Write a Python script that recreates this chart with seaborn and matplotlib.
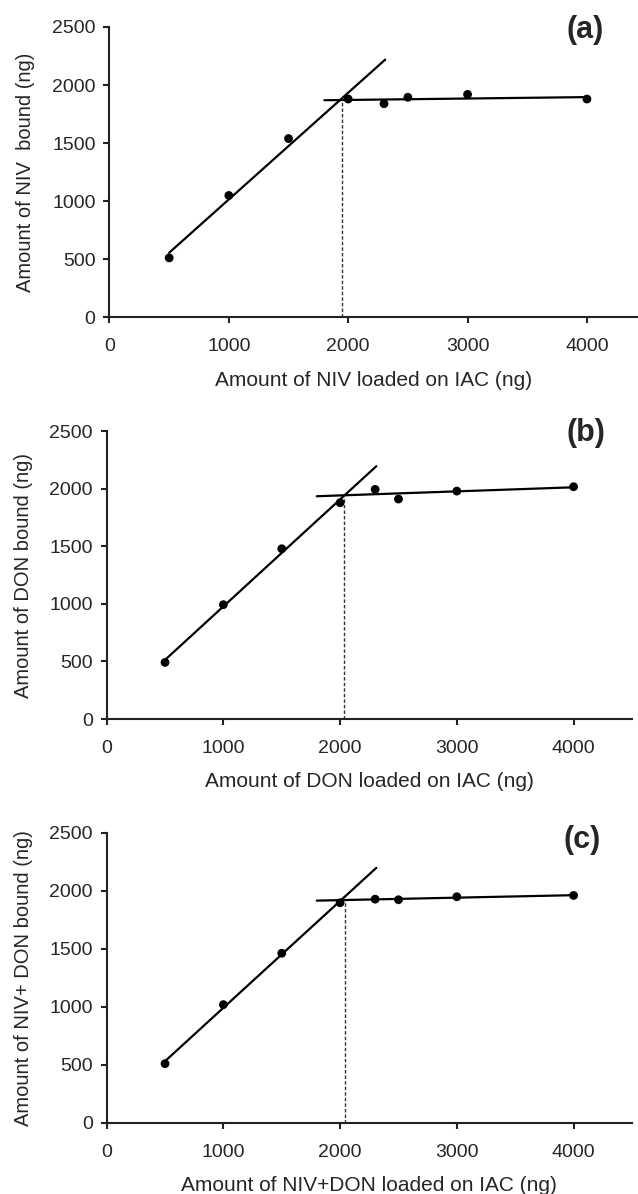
import numpy as np
import pandas as pd
import matplotlib
matplotlib.use("Agg")
import matplotlib.pyplot as plt
import seaborn as sns

# amount loaded on the IAC column (ng), same for all three panels
x_loaded = [500, 1000, 1500, 2000, 2300, 2500, 3000, 4000]
# amount bound (ng)
niv_bound = [513, 1050, 1540, 1880, 1840, 1895, 1920, 1880]
don_bound = [492, 994, 1480, 1880, 1996, 1912, 1981, 2019]
mix_bound = [509, 1018, 1461, 1896, 1927, 1922, 1948, 1959]
# saturation point (dashed line), ng loaded
saturation = [1945, 2035, 2040]

panel_tags = ["(a)", "(b)", "(c)"]
y_labels = ["Amount of NIV  bound (ng)", "Amount of DON bound (ng)",
            "Amount of NIV+ DON bound (ng)"]
x_labels = ["Amount of NIV loaded on IAC (ng)", "Amount of DON loaded on IAC (ng)",
            "Amount of NIV+DON loaded on IAC (ng)"]
x_ticks = [0, 1000, 2000, 3000, 4000]
y_ticks = [0, 500, 1000, 1500, 2000, 2500]

sns.set_theme(style="ticks")
plt.rcParams["font.family"] = ["Liberation Sans", "DejaVu Sans"]
plt.rcParams["axes.linewidth"] = 1.5
plt.rcParams["xtick.major.width"] = 1.5
plt.rcParams["ytick.major.width"] = 1.5

fig = plt.figure(figsize=(6.38, 11.94), dpi=100)
# axes boxes in figure fraction, matched to the scanned panels
boxes = [[0.1716, 0.7341, 0.8284, 0.2433],
         [0.1672, 0.3978, 0.8233, 0.2409],
         [0.1672, 0.0597, 0.8233, 0.2429]]
x_max = [4428, 4500, 4500]
tag_pos = [(0.90, 0.99), (0.912, 0.995), (0.905, 0.975)]

for i, bound in enumerate([niv_bound, don_bound, mix_bound]):
    ax = fig.add_axes(boxes[i])
    df = pd.DataFrame({"loaded": x_loaded, "bound": bound})

    # linear part: first four loads, plateau: loads above 2000
    rise = np.polyfit(df.loaded[:4], df.bound[:4], 1)
    flat = np.polyfit(df.loaded[4:], df.bound[4:], 1)
    rise_x = np.array([500, 2310])
    flat_x = np.array([1800, 4000])
    sns.lineplot(x=rise_x, y=np.polyval(rise, rise_x), color="black", lw=1.6, ax=ax)
    sns.lineplot(x=flat_x, y=np.polyval(flat, flat_x), color="black", lw=1.6, ax=ax)

    sat = saturation[i]
    ax.plot([sat, sat], [0, np.polyval(flat, sat)], color="#333333", lw=1.0,
            dashes=(2.5, 1.5))

    sns.scatterplot(data=df, x="loaded", y="bound", color="black", s=40,
                    edgecolor="none", ax=ax, zorder=5)

    ax.set_xlim(0, x_max[i])
    ax.set_ylim(0, 2500)
    ax.set_xticks(x_ticks)
    ax.set_yticks(y_ticks)
    ax.tick_params(labelsize=14, length=4, color="#222222")
    ax.tick_params(axis="x", pad=11)
    ax.tick_params(axis="y", pad=6)
    ax.set_xlabel(x_labels[i], fontsize=15, labelpad=11)
    ax.set_ylabel(y_labels[i], fontsize=14.5, labelpad=12)
    for side in ["top", "right"]:
        ax.spines[side].set_visible(False)
    for side in ["left", "bottom"]:
        ax.spines[side].set_color("#222222")
    ax.patch.set_alpha(0)
    ax.text(tag_pos[i][0], tag_pos[i][1], panel_tags[i], transform=ax.transAxes,
            fontsize=22, fontweight="bold", ha="center", va="center")

fig.savefig("out.png", dpi=100)
